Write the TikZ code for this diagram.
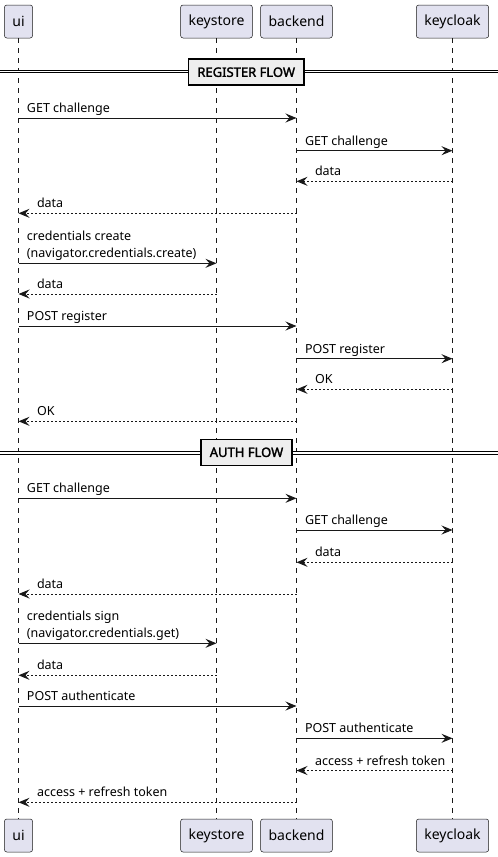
\documentclass[tikz,border=0pt]{standalone}
\usepackage{fontspec}
\setmainfont{Noto Sans}[AutoFakeBold=2]
\usetikzlibrary{arrows.meta}

\definecolor{partfill}{HTML}{E2E2F0}
\definecolor{linegray}{HTML}{181818}
\definecolor{divfill}{HTML}{EEEEEE}

\tikzset{
  part/.style={draw=linegray, fill=partfill, rounded corners=2.5pt, line width=0.5pt,
    minimum height=33pt, inner xsep=8pt, font=\fontsize{14}{16}\selectfont},
  life/.style={draw=linegray, line width=0.5pt, dash pattern=on 5pt off 5pt},
  call/.style={draw=linegray, line width=1pt, -{Stealth[length=11pt,width=9pt,inset=4pt]}},
  reply/.style={call, dash pattern=on 2pt off 2pt},
  clbl/.style={pos=0, anchor=base west, xshift=8pt, yshift=5.5pt, inner sep=0pt,
    align=left, font=\fontsize{12.5}{17}\selectfont},
  rlbl/.style={clbl, pos=1, xshift=10pt},
  divbox/.style={draw=black, fill=divfill, line width=1.5pt, minimum height=26pt,
    inner xsep=9pt, font=\fontsize{13}{15}\selectfont\bfseries},
  divline/.style={draw=black, line width=0.9pt, double=white, double distance=1.6pt}
}

\begin{document}
\begin{tikzpicture}[x=1pt, y=-1pt]
    \useasboundingbox (0,0) rectangle (498,857);
    % participants, top and bottom
    \node[part] (ui) at (18.5,21.5) {ui};
    \node[part] (keystore) at (216.5,21.5) {keystore};
    \node[part] (backend) at (296.5,21.5) {backend};
    \node[part] (keycloak) at (452.5,21.5) {keycloak};
    \node[part] (uiB) at (18.5,835.5) {ui};
    \node[part] (keystoreB) at (216.5,835.5) {keystore};
    \node[part] (backendB) at (296.5,835.5) {backend};
    \node[part] (keycloakB) at (452.5,835.5) {keycloak};
    % lifelines
    \draw[life] (ui) -- (uiB);
    \draw[life] (keystore) -- (keystoreB);
    \draw[life] (backend) -- (backendB);
    \draw[life] (keycloak) -- (keycloakB);

    % register flow divider
    \coordinate (regL) at (0,71.4);
    \coordinate (regR) at (498,71.4);
    \draw[divline] (regL) -- (regR);
    \node[divbox] (reg) at (246.2,72.2) {REGISTER FLOW};

    \draw[call] (ui |- 0,118) -- (backend |- 0,118) node[clbl] (m1) {GET challenge};
    \draw[call] (backend |- 0,150.7) -- (keycloak |- 0,150.7) node[clbl] (m2) {GET challenge};
    \draw[reply] (keycloak |- 0,181.3) -- (backend |- 0,181.3) node[rlbl] (m3) {data};
    \draw[reply] (backend |- 0,213.3) -- (ui |- 0,213.3) node[rlbl] (m4) {data};
    \draw[call] (ui |- 0,263.3) -- (keystore |- 0,263.3)
        node[clbl] (m5) {credentials create\\(navigator.credentials.create)};
    \draw[reply] (keystore |- 0,294) -- (ui |- 0,294) node[rlbl] (m6) {data};
    \draw[call] (ui |- 0,326) -- (backend |- 0,326) node[clbl] (m7) {POST register};
    \draw[call] (backend |- 0,358.7) -- (keycloak |- 0,358.7) node[clbl] (m8) {POST register};
    \draw[reply] (keycloak |- 0,389.3) -- (backend |- 0,389.3) node[rlbl] (m9) {OK};
    \draw[reply] (backend |- 0,421.3) -- (ui |- 0,421.3) node[rlbl] (m10) {OK};

    % auth flow divider
    \coordinate (authL) at (0,453);
    \coordinate (authR) at (498,453);
    \draw[divline] (authL) -- (authR);
    \node[divbox] (auth) at (246.5,452.3) {AUTH FLOW};

    \draw[call] (ui |- 0,498.3) -- (backend |- 0,498.3) node[clbl] (m11) {GET challenge};
    \draw[call] (backend |- 0,530) -- (keycloak |- 0,530) node[clbl] (m12) {GET challenge};
    \draw[reply] (keycloak |- 0,562.3) -- (backend |- 0,562.3) node[rlbl] (m13) {data};
    \draw[reply] (backend |- 0,594) -- (ui |- 0,594) node[rlbl] (m14) {data};
    \draw[call] (ui |- 0,643.3) -- (keystore |- 0,643.3)
        node[clbl] (m15) {credentials sign\\(navigator.credentials.get)};
    \draw[reply] (keystore |- 0,675.3) -- (ui |- 0,675.3) node[rlbl] (m16) {data};
    \draw[call] (ui |- 0,706) -- (backend |- 0,706) node[clbl] (m17) {POST authenticate};
    \draw[call] (backend |- 0,738.3) -- (keycloak |- 0,738.3) node[clbl] (m18) {POST authenticate};
    \draw[reply] (keycloak |- 0,770.5) -- (backend |- 0,770.5) node[rlbl] (m19) {access + refresh token};
    \draw[reply] (backend |- 0,802.3) -- (ui |- 0,802.3) node[rlbl] (m20) {access + refresh token};
\end{tikzpicture}
\end{document}
